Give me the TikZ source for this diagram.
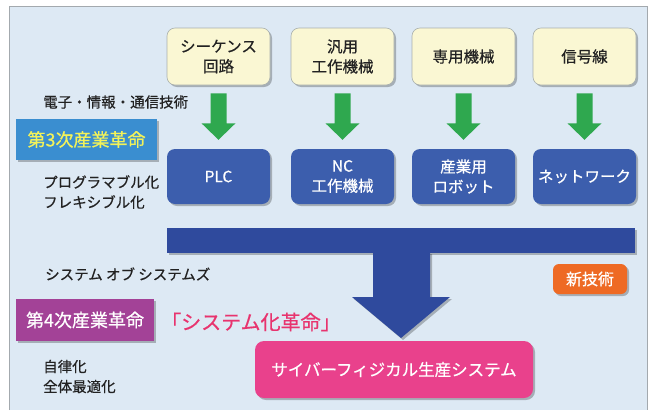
\documentclass[tikz,border=0pt]{standalone}
\usepackage{fontspec}
\setmainfont{Noto Sans CJK JP}[FakeBold=0.6]
\usetikzlibrary{shadows,calc}
\definecolor{panelbg}{HTML}{DDE9F4}
\definecolor{panelline}{HTML}{A3A9AE}
\definecolor{ybox}{HTML}{FAF7D3}
\definecolor{yline}{HTML}{A9B0AE}
\definecolor{bbox}{HTML}{3C5EAD}
\definecolor{barblue}{HTML}{2F4A9D}
\definecolor{agreen}{HTML}{2FA84F}
\definecolor{thirdbg}{HTML}{3A8ED0}
\definecolor{thirdtx}{HTML}{F2F25A}
\definecolor{fourthbg}{HTML}{A34297}
\definecolor{cpsbg}{HTML}{E9418C}
\definecolor{newbg}{HTML}{EE6A24}
\definecolor{redtx}{HTML}{E8336E}
\definecolor{txt}{HTML}{222222}
\tikzset{
  x=1pt,y=-1pt,
  shd/.style={drop shadow={shadow xshift=2pt,shadow yshift=-2pt,fill=black,opacity=0.25}},
  ybx/.style={shd,fill=ybox,draw=yline,line width=0.6pt,rounded corners=8pt,minimum width=103pt,minimum height=57pt,align=center,font=\fontsize{15.5}{20}\selectfont,text=txt,inner sep=0pt},
  bbx/.style={shd,fill=bbox,rounded corners=8pt,minimum width=103pt,minimum height=55pt,align=center,font=\fontsize{15.5}{20}\selectfont,text=white,inner sep=0pt},
  lbl/.style={anchor=west,font=\fontsize{14.5}{20}\selectfont,text=txt,inner sep=0pt,align=left},
  garrow/.style={fill=agreen},
}
\begin{document}
\begin{tikzpicture}
\useasboundingbox (0,0) rectangle (648,410);
\fill[white] (0,0) rectangle (648,410);
\fill[panelbg] (9,6) rectangle (647,410);
\draw[panelline,line width=1pt] (9,410) -- (9,6) -- (647,6) -- (647,410);

% top boxes
\node[ybx] (y1) at (218.5,56.5) {シーケンス\\回路};
\node[ybx] (y2) at (342.5,56.5) {汎用\\工作機械};
\node[ybx] (y3) at (463.5,56.5) {専用機械};
\node[ybx] (y4) at (584.5,56.5) {信号線};

% blue boxes
\node[bbx] (b1) at (218.5,176.5) {PLC};
\node[bbx] (b2) at (342.5,176.5) {NC\\工作機械};
\node[bbx] (b3) at (463.5,176.5) {産業用\\ロボット};
\node[bbx] (b4) at (584.5,176.5) {ネットワーク};

% green arrows
\foreach \i in {1,2,3,4}{
  \fill[garrow] ($(y\i.south)+(-8,8)$) -- ($(y\i.south)+(8,8)$) -- ($(y\i.south)+(8,38)$)
    -- ($(y\i.south)+(17,38)$) -- ($(b\i.north)+(0,-9)$) -- ($(y\i.south)+(-17,38)$)
    -- ($(y\i.south)+(-8,38)$) -- cycle;
}

% big bar and arrow
\node[shd,fill=barblue,minimum width=468pt,minimum height=25pt,inner sep=0pt] (bar) at (401,240.5) {};
\node[fill=cpsbg,shd,rounded corners=9pt,minimum width=278pt,minimum height=57pt,inner sep=0pt,text=white,font=\fontsize{16.5}{20}\selectfont] (cps) at (394,369.5) {サイバーフィジカル生産システム};
\fill[barblue,shd] (373,252) -- (430,252) -- (430,297) -- (450,297) -- (401,338) -- (352,297) -- (373,297) -- cycle;

% labels
\node[shd,fill=thirdbg,minimum width=141pt,minimum height=41pt,inner sep=0pt,text=thirdtx,font=\fontsize{18}{20}\selectfont] (third) at (86.5,139.5) {第3次産業革命};
\node[shd,fill=fourthbg,minimum width=138pt,minimum height=42pt,inner sep=0pt,text=white,font=\fontsize{18}{20}\selectfont] (fourth) at (85,320) {第4次産業革命};
\node[shd,fill=newbg,rounded corners=6pt,minimum width=74pt,minimum height=30pt,inner sep=0pt,text=white,font=\fontsize{16}{20}\selectfont] (newtech) at (590,279) {新技術};

\node[lbl] (l1) at (43,102) {電子・情報・通信技術};
\node[lbl] (l2) at (43,192) {プログラマブル化\\フレキシブル化};
\node[lbl] (l3) at (45,274) {システム オブ システムズ};
\node[lbl] (l4) at (43,376.5) {自律化\\全体最適化};
\node[anchor=west,inner sep=0pt,text=redtx,font=\fontsize{20}{20}\selectfont] (rev) at (161,322) {「システム化革命」};
\end{tikzpicture}
\end{document}
